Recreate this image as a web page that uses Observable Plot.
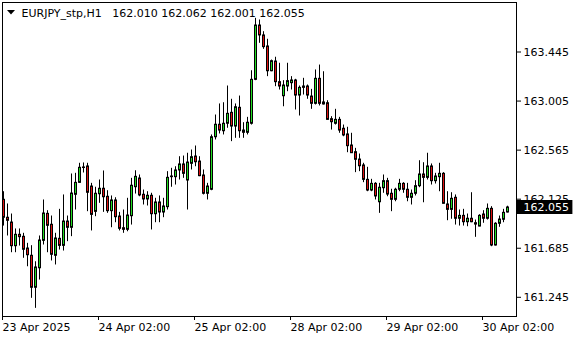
<!DOCTYPE html>
<html><head><meta charset="utf-8">
<script src="https://cdn.jsdelivr.net/npm/d3@7"></script>
<script src="https://cdn.jsdelivr.net/npm/@observablehq/plot@0.6"></script>
<style>html,body{margin:0;padding:0;background:#fff;} svg{display:block}</style>
</head><body><div id="chart"></div>
<script>
const symbol = "EURJPY_stp,H1";
const open = [162.124,161.963,161.920,161.708,161.810,161.792,161.687,161.622,161.335,161.510,161.756,161.998,161.900,161.622,161.774,161.711,161.929,161.873,162.169,162.276,162.414,162.423,162.243,162.016,162.174,162.223,162.151,162.022,162.118,161.974,161.869,161.855,161.977,162.237,162.315,162.169,162.127,162.160,161.995,162.100,162.010,162.058,162.327,162.327,162.387,162.441,162.297,162.447,162.512,162.467,162.342,162.178,162.214,162.685,162.797,162.739,162.806,162.904,162.781,162.949,162.745,162.725,162.806,163.200,163.687,163.598,163.499,163.277,163.364,163.179,163.053,163.140,163.170,163.194,163.059,163.140,163.140,163.050,162.985,163.209,162.997,162.990,162.847,162.806,162.841,162.761,162.710,162.611,162.551,162.485,162.432,162.303,162.207,162.267,162.102,162.228,162.291,162.178,162.124,162.214,162.267,162.214,162.142,162.178,162.246,162.351,162.321,162.423,162.291,162.327,162.357,162.082,162.034,162.142,161.954,161.980,161.923,161.954,161.914,161.884,161.992,161.954,162.043,161.714,161.909,161.945,162.010];
const high = [162.192,162.082,161.992,161.858,161.858,161.819,161.729,161.708,161.564,161.795,162.118,162.022,161.974,161.819,162.034,162.163,161.974,162.351,162.357,162.447,162.450,162.447,162.267,162.232,162.297,162.378,162.201,162.154,162.138,162.007,162.028,162.133,162.312,162.380,162.342,162.207,162.192,162.178,162.133,162.154,162.133,162.372,162.402,162.416,162.506,162.512,162.537,162.566,162.602,162.506,162.387,162.267,162.701,162.880,162.979,162.990,163.140,163.021,162.979,163.050,162.811,162.859,163.277,163.747,163.732,163.627,163.559,163.373,163.398,163.344,163.188,163.344,163.224,163.200,163.140,163.209,163.149,163.110,163.284,163.328,163.268,163.008,162.865,162.931,162.859,162.790,162.770,162.716,162.581,162.530,162.447,162.411,162.303,162.273,162.267,162.342,162.312,162.214,162.223,162.303,162.273,162.267,162.207,162.291,162.470,162.452,162.537,162.441,162.357,162.447,162.363,162.192,162.183,162.163,162.028,162.034,161.992,162.183,161.938,161.986,162.022,162.082,162.058,161.914,161.974,162.034,162.062];
const low = [161.884,161.795,161.645,161.645,161.705,161.595,161.519,161.236,161.146,161.400,161.714,161.645,161.571,161.535,161.669,161.660,161.744,161.789,162.028,162.267,162.360,162.013,161.840,161.968,162.088,162.007,161.998,161.869,161.914,161.840,161.819,161.833,161.893,162.171,162.147,162.073,162.064,161.849,161.914,161.914,161.959,162.028,162.232,162.252,162.297,162.312,162.028,162.387,162.416,162.327,162.163,162.118,162.201,162.656,162.710,162.701,162.761,162.641,162.671,162.671,162.671,162.701,162.790,163.188,163.523,163.469,163.224,163.268,163.134,163.104,162.954,163.089,163.104,162.925,162.871,163.059,163.021,162.931,162.970,162.961,162.970,162.835,162.745,162.790,162.716,162.685,162.542,162.537,162.363,162.372,162.273,162.192,162.192,162.118,161.998,162.178,162.147,162.013,162.102,162.192,162.178,162.102,162.073,162.154,162.228,162.093,162.297,162.252,162.261,162.192,162.082,161.932,161.945,161.893,161.884,161.884,161.878,161.914,161.783,161.878,161.909,161.938,161.699,161.705,161.873,161.914,162.001];
const close = [161.963,161.936,161.708,161.810,161.789,161.676,161.627,161.335,161.517,161.759,162.001,161.891,161.631,161.777,161.711,161.929,161.873,162.180,162.276,162.411,162.409,162.187,161.989,162.178,162.223,162.147,162.022,162.118,161.968,161.864,161.855,161.983,162.250,162.330,162.163,162.127,162.160,161.995,162.100,162.010,162.064,162.321,162.333,162.387,162.441,162.357,162.458,162.506,162.461,162.336,162.178,162.243,162.685,162.797,162.745,162.806,162.895,162.781,162.954,162.739,162.725,162.815,163.200,163.687,163.598,163.493,163.277,163.367,163.179,163.140,163.149,163.188,163.194,163.059,163.128,163.128,163.059,162.985,163.209,162.985,162.979,162.841,162.820,162.841,162.745,162.701,162.605,162.542,162.483,162.425,162.303,162.207,162.267,162.154,162.232,162.291,162.171,162.124,162.214,162.267,162.214,162.142,162.178,162.246,162.351,162.321,162.423,162.291,162.333,162.357,162.088,162.034,162.133,161.954,161.980,161.923,161.954,161.923,161.902,161.980,161.954,162.043,161.714,161.909,161.947,162.007,162.055];
const xTickIndex = [0, 24, 48, 72, 96, 120];
const xTickLabels = ["23 Apr 2025", "24 Apr 02:00", "25 Apr 02:00", "28 Apr 02:00", "29 Apr 02:00", "30 Apr 02:00"];
const yTicks = [163.445, 163.005, 162.565, 162.125, 161.685, 161.245];
const bullColor = "#22dd22", bearColor = "#dd1111";

const candles = close.map((c, i) => ({i, o: open[i], h: high[i], l: low[i], c}));
const last = candles[candles.length - 1];
const xDomain = [-0.25, 128.25];
const labelOf = new Map(xTickIndex.map((d, k) => [d, xTickLabels[k]]));
const fmt = d3.format(".3f");
const titleText = `${symbol}\u00a0\u00a0\u00a0${fmt(last.o)} ${fmt(last.h)} ${fmt(last.l)} ${fmt(last.c)}`;

const chart = Plot.plot({
  width: 580, height: 340,
  marginLeft: 2, marginRight: 64, marginTop: 2, marginBottom: 24,
  x: {type: "linear", domain: xDomain, label: null},
  y: {domain: [161.0729, 163.889], label: null},
  style: {fontFamily: "DejaVu Sans", fontSize: "11px", color: "black", background: "white", overflow: "visible"},
  marks: [
    Plot.ruleX(candles, {x: "i", y1: "l", y2: "h", stroke: "black", strokeWidth: 1}),
    Plot.rect(candles.filter(d => d.c >= d.o), {x1: d => d.i - 0.25, x2: d => d.i + 0.25, y1: "o", y2: "c", fill: bullColor, stroke: "black", strokeWidth: 1, dx: 0.5, dy: 0.5}),
    Plot.rect(candles.filter(d => d.c < d.o), {x1: d => d.i - 0.25, x2: d => d.i + 0.25, y1: "o", y2: "c", fill: bearColor, stroke: "black", strokeWidth: 1, dx: 0.5, dy: 0.5}),
    Plot.frame({stroke: "black"}),
    Plot.axisY(yTicks, {anchor: "right", tickSize: 4, tickPadding: 3, tickFormat: fmt, fontSize: 11, label: null}),
    Plot.axisX(xTickIndex, {anchor: "bottom", tickSize: 4, tickPadding: 3, tickFormat: d => labelOf.get(d), textAnchor: "start", dx: -1, fontSize: 11, label: null}),
    Plot.ruleY([last.c], {x1: xDomain[1], x2: xDomain[1] + 14.1, stroke: "black", strokeWidth: 14}),
    Plot.text([last.c], {y: d => d, frameAnchor: "right", dx: 7, textAnchor: "start", fill: "white", text: d => fmt(d), fontSize: 11}),
    Plot.text([titleText], {frameAnchor: "top-left", dx: 19, dy: 7, textAnchor: "start", lineAnchor: "top", text: d => d, fontSize: 11, fill: "black"})
  ]
});
d3.select(chart).append("path").attr("d", "M7,10L15,10L11,14.5Z").attr("fill", "black");
document.getElementById("chart").appendChild(chart);
</script>
</body></html>
